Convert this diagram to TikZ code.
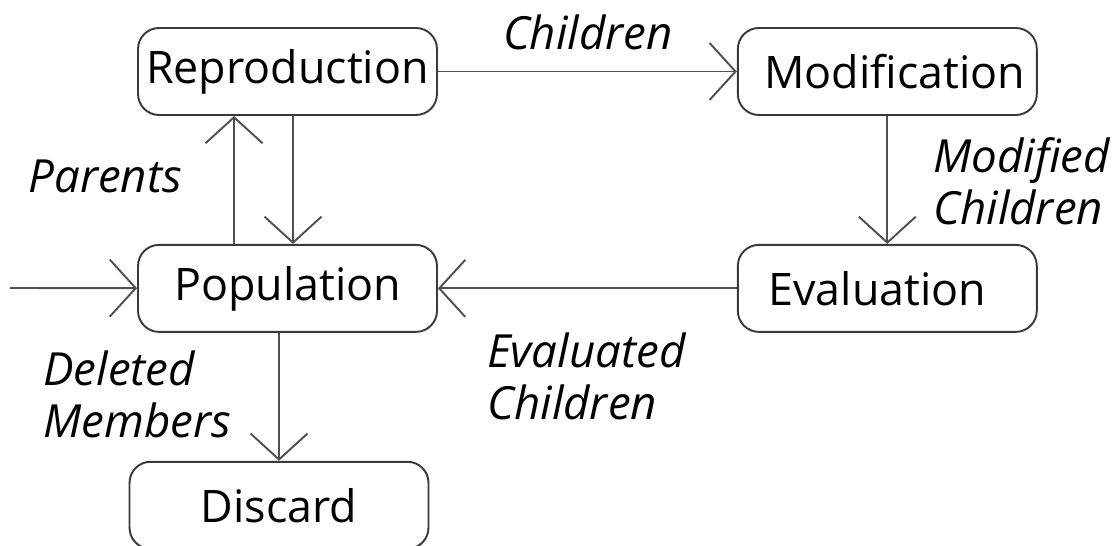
\documentclass[tikz,border=0pt]{standalone}
\usepackage{fontspec}
\setmainfont{Open Sans}
\usetikzlibrary{arrows.meta, positioning}
\definecolor{boxline}{HTML}{3a3a3a}
\definecolor{flowgrey}{HTML}{505050}
\tikzset{
  stage/.style={rectangle, draw=boxline, fill=white, line width=1.1pt,
                rounded corners=0.42cm, minimum width=5.98cm, minimum height=1.74cm,
                align=center, font=\fontsize{25.5}{30}\selectfont},
  flow/.style={-{Straight Barb[length=0.52cm, width=1.14cm, line width=1.1pt]},
               line width=1.1pt, draw=flowgrey},
  flowlabel/.style={font=\fontsize{26}{29.5}\selectfont\itshape, align=left, inner sep=0pt},
}
\begin{document}
\begin{tikzpicture}[x=0.02cm, y=-0.02cm, node distance=2.56cm and 5.98cm]
  \useasboundingbox (0,0) rectangle (1115,546);

  \node[stage] (repro) at (287.5,71.5) {Reproduction};
  \node[stage, right=of repro] (modif) {\hspace*{0.3cm}Modification};
  \node[stage, below=of repro] (pop) {Population};
  \node[stage, below=of modif] (eval) {\hspace*{0.2cm}Evaluation\hspace*{0.6cm}};
  \node[stage, below=of pop, xshift=-0.17cm] (discard) {Discard};

  \coordinate (start) at (10,288);

  \draw[flow] (repro) -- (modif);
  \draw[flow] ([xshift=0.11cm]repro.south) -- ([xshift=0.11cm]pop.north);
  \draw[flow] ([xshift=-1.07cm]pop.north) -- ([xshift=-1.07cm]repro.south);
  \draw[flow] (modif) -- (eval);
  \draw[flow] (eval) -- (pop);
  \draw[flow] (start) -- (pop);
  \draw[flow] ([xshift=-0.17cm]pop.south) -- (discard);

  \node[flowlabel] (lchildren) at (588,32) {Children};
  \node[flowlabel, anchor=west] (lparents) at (28,176) {Parents};
  \node[flowlabel, anchor=west] (lmodified) at (933,181) {Modified\\Children};
  \node[flowlabel, anchor=west] (levaluated) at (487,376) {Evaluated\\Children};
  \node[flowlabel, anchor=west] (ldeleted) at (43,394) {Deleted\\Members};
\end{tikzpicture}
\end{document}
